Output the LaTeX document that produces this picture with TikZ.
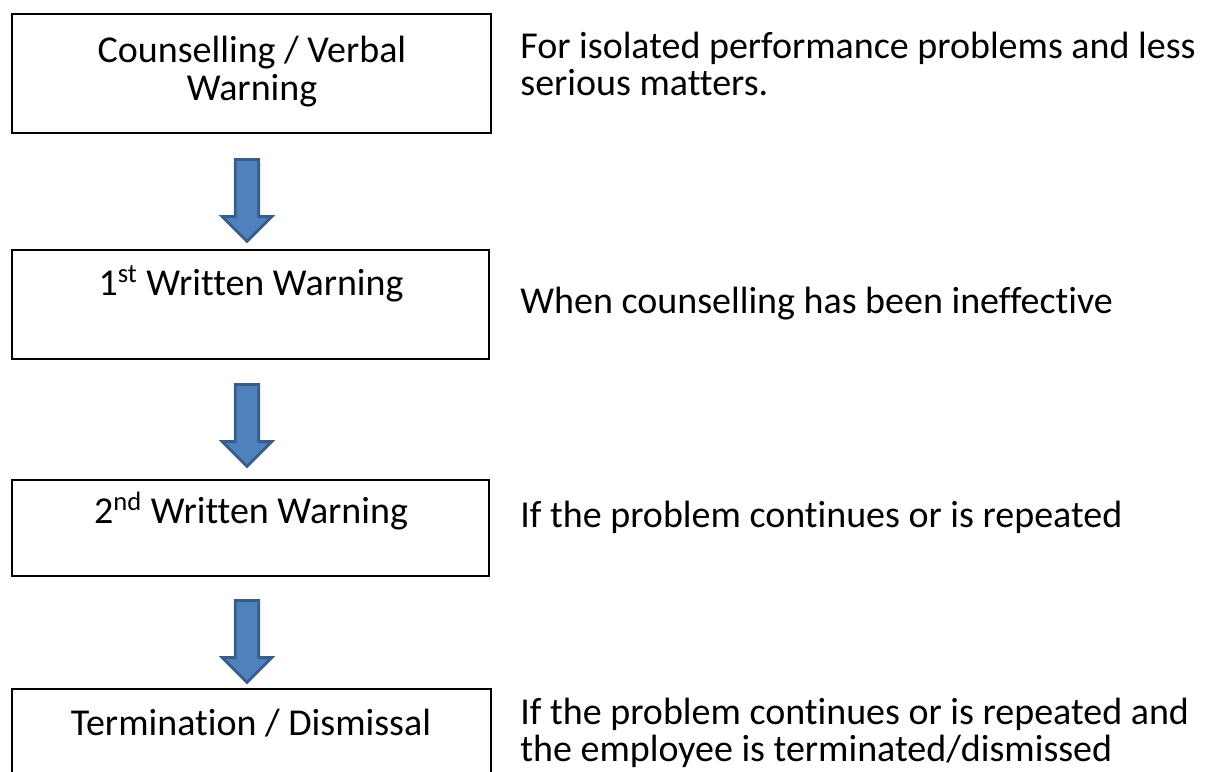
\documentclass[tikz,border=0pt]{standalone}
\usepackage{fontspec}
\setmainfont{Carlito}[Ligatures=NoCommon]
\usetikzlibrary{shapes.arrows}

\definecolor{arrowfill}{HTML}{4F81BD}
\definecolor{arrowline}{HTML}{385D8A}

\tikzset{
  stepbox/.style={draw=black, line width=1.1pt, minimum width=239.5pt,
    inner sep=0pt},
  boxtext/.style={font=\fontsize{19}{19}\selectfont, align=center,
    anchor=base, inner sep=0pt},
  notetext/.style={font=\fontsize{19}{18.5}\selectfont, align=left,
    anchor=base west, inner sep=0pt},
  downarrow/.style={single arrow, draw=arrowline, fill=arrowfill,
    line width=1.4pt, rotate=-90, minimum height=41pt,
    single arrow head extend=6.5pt, inner sep=5.2pt,
    single arrow tip angle=90}
}

\begin{document}
\begin{tikzpicture}[x=0.5pt,y=-0.5pt]
  \useasboundingbox (0,0) rectangle (1210,771);

  % the four steps
  \node[stepbox, minimum height=59.5pt] (b1) at (251.5,73.5) {};
  \node[stepbox, minimum height=54.5pt, minimum width=238.5pt] (b2) at (250.5,304.5) {};
  \node[stepbox, minimum height=48pt, minimum width=238.5pt] (b3) at (250.5,528) {};
  \node[stepbox, minimum height=59.5pt] (b4) at (251.5,748.5) {};

  % titles in the boxes (base = last line)
  \node[boxtext] (t1) at (252,100) {Counselling / Verbal\\Warning};
  \node[boxtext] (t2) at (251,295) {1\textsuperscript{st} Written Warning};
  \node[boxtext] (t3) at (251,523) {2\textsuperscript{nd} Written Warning};
  \node[boxtext] (t4) at (251,735) {Termination / Dismissal};

  % block arrows between the steps
  \node[downarrow] (a1) at (247,194.5) {};
  \node[downarrow] (a2) at (247,419.5) {};
  \node[downarrow] (a3) at (247,635.5) {};

  % notes on the right
  \node[notetext] (n1) at (520,95) {For isolated performance problems and less\\serious matters.};
  \node[notetext] (n2) at (520,313) {When counselling has been ineffective};
  \node[notetext] (n3) at (520,527) {If the problem continues or is repeated};
  \node[notetext] (n4) at (520,761) {If the problem continues or is repeated and\\the employee is terminated/dismissed};
\end{tikzpicture}
\end{document}
